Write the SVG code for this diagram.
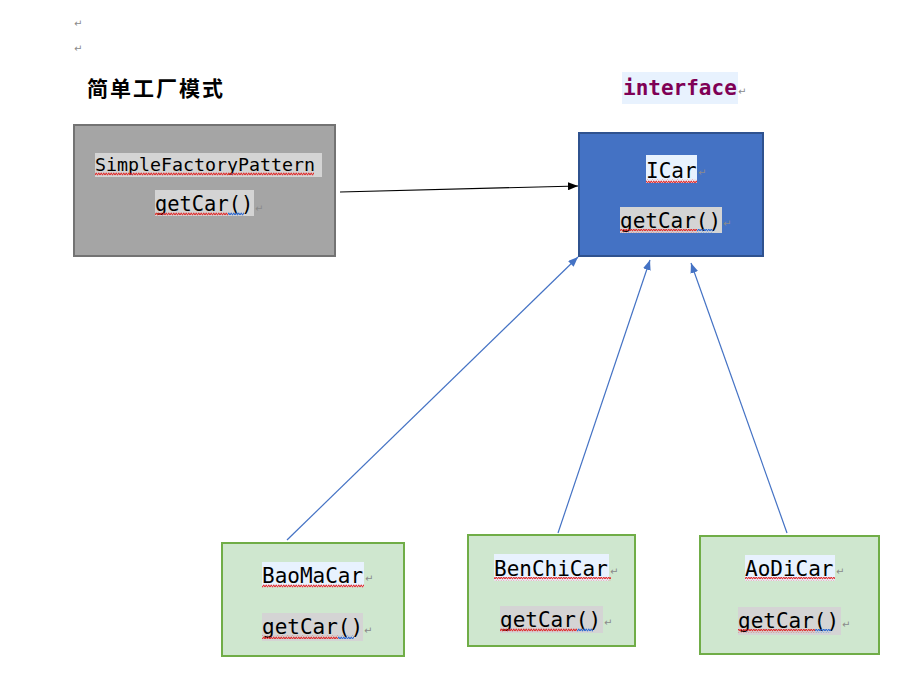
<svg xmlns="http://www.w3.org/2000/svg" width="904" height="675" viewBox="0 0 904 675">
<defs>
<style>
.mono{font-family:"DejaVu Sans Mono","Liberation Mono",monospace;font-size:21px;fill:#000}
.pm{font-family:"DejaVu Sans",sans-serif;font-size:10px;fill:#8a8a8a}
.hlb{fill:#e8f2fe}
.hlg{fill:#d4d4d4}
.conn{fill:none;stroke-width:1.2}
</style>
<pattern id="wr" width="5" height="4" patternUnits="userSpaceOnUse">
<path d="M0,3.2 L1.25,0.8 L2.5,3.2 L3.75,0.8 L5,3.2" fill="none" stroke="#e02020" stroke-width="1"/>
</pattern>
<pattern id="wb" width="5" height="4" patternUnits="userSpaceOnUse">
<path d="M0,3.2 L1.25,0.8 L2.5,3.2 L3.75,0.8 L5,3.2" fill="none" stroke="#2060d0" stroke-width="1"/>
</pattern>
<marker id="ab" markerWidth="10" markerHeight="8" refX="10" refY="4" orient="auto" markerUnits="userSpaceOnUse">
<path d="M0,0 L10,4 L0,8 Z" fill="#000"/>
</marker>
<marker id="au" markerWidth="10" markerHeight="8" refX="10" refY="4" orient="auto" markerUnits="userSpaceOnUse">
<path d="M0,0 L10,4 L0,8 Z" fill="#4472c4"/>
</marker>
</defs>
<rect width="904" height="675" fill="#fff"/>

<g id="marks">
<text class="pm" x="74" y="27">↵</text>
<text class="pm" x="74" y="52">↵</text>
</g>

<g id="title">
<text x="87" y="96" font-family="'Noto Sans CJK SC','Noto Sans CJK JP',sans-serif" font-size="21" font-weight="700" letter-spacing="2" fill="#000">简单工厂模式</text>
</g>

<g id="interface-label">
<rect class="hlb" x="622" y="72" width="116" height="32"/>
<text class="mono" x="623" y="95" font-weight="700" style="fill:#7f0055">interface</text>
<text class="pm" x="738" y="95">↵</text>
</g>

<g id="connectors">
<line class="conn" x1="340" y1="192" x2="578" y2="186" stroke="#000" marker-end="url(#ab)"/>
<line class="conn" x1="287" y1="540" x2="578" y2="257" stroke="#4472c4" marker-end="url(#au)"/>
<line class="conn" x1="558" y1="533" x2="650" y2="260" stroke="#4472c4" marker-end="url(#au)"/>
<line class="conn" x1="787" y1="533" x2="691" y2="263" stroke="#4472c4" marker-end="url(#au)"/>
</g>

<g id="SimpleFactoryPattern">
<rect x="74" y="125" width="261" height="131" fill="#a5a5a5" stroke="#737373" stroke-width="2"/>
<rect class="hlg" x="95" y="153" width="227" height="24"/>
<text class="mono" x="95" y="171" style="font-size:18.3px">SimpleFactoryPattern</text>
<rect x="95" y="172" width="219" height="4" fill="url(#wr)"/>
<rect class="hlg" x="155" y="190" width="99" height="26"/>
<text class="mono" x="155" y="211" style="font-size:20.4px">getCar()</text>
<rect x="155" y="212" width="73" height="4" fill="url(#wr)"/>
<rect x="228" y="212" width="16" height="4" fill="url(#wb)"/>
<text class="pm" x="255" y="212">↵</text>
</g>

<g id="ICar">
<rect x="579" y="133" width="184" height="123" fill="#4472c4" stroke="#2f528f" stroke-width="2"/>
<rect class="hlb" x="646" y="155" width="51" height="28"/>
<text class="mono" x="646" y="178">ICar</text>
<rect x="646" y="179" width="51" height="4" fill="url(#wr)"/>
<text class="pm" x="698" y="176">↵</text>
<rect class="hlg" x="620" y="207" width="102" height="26"/>
<text class="mono" x="620" y="228">getCar()</text>
<rect x="620" y="229" width="77" height="4" fill="url(#wr)"/>
<rect x="697" y="229" width="16" height="4" fill="url(#wb)"/>
<text class="pm" x="723" y="227">↵</text>
</g>

<g id="BaoMaCar">
<rect x="222" y="543" width="182" height="113" fill="#cfe7cf" stroke="#70ad47" stroke-width="2"/>
<rect class="hlb" x="262" y="562" width="102" height="25"/>
<text class="mono" x="262" y="583">BaoMaCar</text>
<rect x="262" y="584" width="102" height="4" fill="url(#wr)"/>
<text class="pm" x="365" y="582">↵</text>
<rect class="hlg" x="262" y="613" width="101" height="28"/>
<text class="mono" x="262" y="634">getCar()</text>
<rect x="262" y="635" width="76" height="4" fill="url(#wr)"/>
<rect x="338" y="635" width="16" height="4" fill="url(#wb)"/>
<text class="pm" x="364" y="634">↵</text>
</g>

<g id="BenChiCar">
<rect x="468" y="535" width="167" height="111" fill="#cfe7cf" stroke="#70ad47" stroke-width="2"/>
<rect class="hlb" x="494" y="554" width="115" height="27"/>
<text class="mono" x="494" y="576">BenChiCar</text>
<rect x="494" y="577" width="117" height="4" fill="url(#wr)"/>
<text class="pm" x="610" y="575">↵</text>
<rect class="hlg" x="500" y="606" width="103" height="27"/>
<text class="mono" x="500" y="627">getCar()</text>
<rect x="500" y="628" width="77" height="4" fill="url(#wr)"/>
<rect x="577" y="628" width="16" height="4" fill="url(#wb)"/>
<text class="pm" x="604" y="626">↵</text>
</g>

<g id="AoDiCar">
<rect x="700" y="536" width="179" height="118" fill="#cfe7cf" stroke="#70ad47" stroke-width="2"/>
<rect class="hlb" x="745" y="555" width="90" height="26"/>
<text class="mono" x="745" y="576">AoDiCar</text>
<rect x="745" y="577" width="90" height="4" fill="url(#wr)"/>
<text class="pm" x="836" y="575">↵</text>
<rect class="hlg" x="738" y="607" width="103" height="28"/>
<text class="mono" x="738" y="628">getCar()</text>
<rect x="738" y="629" width="77" height="4" fill="url(#wr)"/>
<rect x="815" y="629" width="16" height="4" fill="url(#wb)"/>
<text class="pm" x="842" y="628">↵</text>
</g>
</svg>
